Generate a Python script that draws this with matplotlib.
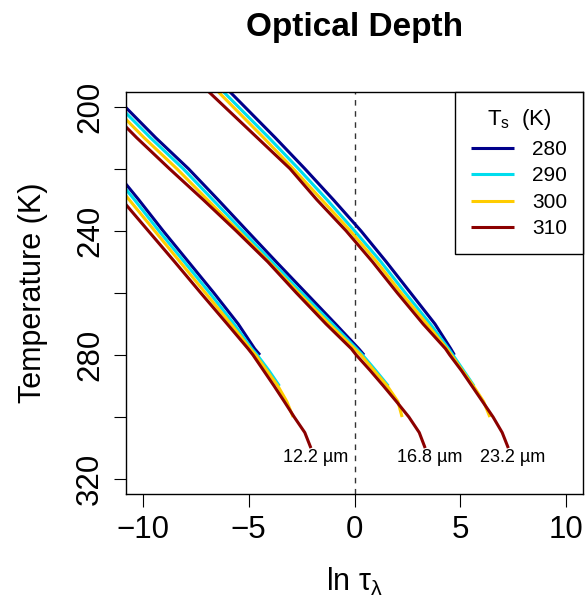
import matplotlib
matplotlib.use("Agg")
import numpy as np
import matplotlib.pyplot as plt

plt.rcParams["font.family"] = ["Liberation Sans", "DejaVu Sans"]
plt.rcParams["mathtext.fontset"] = "custom"
plt.rcParams["mathtext.rm"] = "Liberation Sans"
plt.rcParams["mathtext.it"] = "Liberation Sans"
plt.rcParams["mathtext.default"] = "regular"

# ── data ─────────────────────────────────────────────────────────────────────
# temperature levels (K); each curve runs down to its own surface temperature
T_GRID = [190, 200, 210, 220, 230, 240, 250, 260, 270, 278, 280,
          285, 290, 295, 300, 305, 310]
T_SURF = [280, 290, 300, 310]
COLORS = ["#00008B", "#00DDEE", "#FFCC00", "#8B0000"]
WAVELENGTHS = ["12.2", "16.8", "23.2"]

# ln(tau) at T_GRID, one list per surface temperature (280, 290, 300, 310)
ln_tau_12 = [
    [-15.0, -13.8, -12.6, -11.4, -10.2, -9.05, -7.85, -6.65, -5.5, -4.72, -4.47],
    [-15.2, -14.0, -12.8, -11.6, -10.4, -9.25, -8.05, -6.85, -5.7, -4.85, -4.6,
     -4.05, -3.55],
    [-15.45, -14.25, -13.05, -11.85, -10.65, -9.45, -8.25, -7.05, -5.85, -4.93,
     -4.68, -4.15, -3.62, -3.2, -2.9],
    [-15.9, -14.7, -13.45, -12.2, -11.0, -9.75, -8.5, -7.27, -6.02, -5.03, -4.8,
     -4.3, -3.8, -3.32, -2.85, -2.35, -2.06],
]
ln_tau_17 = [
    [-12.3, -10.85, -9.4, -7.85, -6.45, -5.08, -3.7, -2.3, -0.9, 0.2, 0.45],
    [-12.55, -11.1, -9.65, -8.1, -6.7, -5.3, -3.9, -2.5, -1.05, 0.1, 0.38,
     1.0, 1.6],
    [-12.8, -11.4, -9.95, -8.4, -6.95, -5.5, -4.05, -2.65, -1.2, 0.0, 0.3,
     0.92, 1.55, 2.05, 2.25],
    [-13.1, -11.75, -10.3, -8.75, -7.15, -5.6, -4.1, -2.75, -1.35, -0.15, 0.08,
     0.74, 1.37, 1.98, 2.57, 3.06, 3.34],
]
ln_tau_23 = [
    [-6.65, -5.2, -3.75, -2.35, -1.0, 0.3, 1.5, 2.65, 3.8, 4.55, 4.72],
    [-6.95, -5.5, -4.05, -2.65, -1.3, 0.0, 1.25, 2.4, 3.58, 4.45, 4.65,
     5.15, 5.65],
    [-7.2, -5.75, -4.3, -2.9, -1.55, -0.2, 1.05, 2.2, 3.42, 4.37, 4.58,
     5.1, 5.62, 6.1, 6.4],
    [-7.7, -6.15, -4.6, -3.05, -1.78, -0.4, 0.85, 2.02, 3.24, 4.3, 4.5,
     5.05, 5.55, 6.05, 6.55, 6.98, 7.27],
]
GROUPS = [ln_tau_12, ln_tau_17, ln_tau_23]

# ── figure ───────────────────────────────────────────────────────────────────
fig = plt.figure(figsize=(5.87, 6.01), dpi=100)
ax = fig.add_axes([0.2147, 0.178, 0.7785, 0.6694])

ax.axvline(0, color="#333333", lw=1.0, ls=(0, (4, 4)), zorder=1)

handles = []
for g, curves in enumerate(GROUPS):
    for ts, col, lt in zip(T_SURF, COLORS, curves):
        T = T_GRID[:len(lt)]
        ln, = ax.plot(lt, T, color=col, lw=2.2, solid_capstyle="butt",
                      solid_joinstyle="round", zorder=2)
        if g == 0:
            ln.set_label(str(ts))
            handles.append(ln)
    # wavelength label under the end of the warmest curve
    last = curves[-1]
    ax.annotate(WAVELENGTHS[g] + " µm", xy=(last[-1], T_GRID[len(last) - 1]),
                xytext=(3.3, -1), textcoords="offset points",
                ha="center", va="top", fontsize=13, annotation_clip=False)

ax.set_xlim(-10.8, 10.8)
ax.set_ylim(324.8, 195.2)
ax.set_xticks([-10, -5, 0, 5, 10])
ax.set_xticklabels(["\u221210", "\u22125", "0", "5", "10"])
ax.set_yticks([200, 220, 240, 260, 280, 300, 320])
ax.set_yticklabels(["200", "", "240", "", "280", "", "320"],
                   rotation=90, va="center")
ax.tick_params(direction="out", length=9, width=0.8, labelsize=22.5, pad=6)
for s in ax.spines.values():
    s.set_linewidth(1.0)

ax.set_xlabel("ln $\\tau_{\\lambda}$", fontsize=22, labelpad=15)
ax.set_ylabel("Temperature (K)", fontsize=22, labelpad=19.5)
fig.suptitle("Optical Depth", fontsize=24, fontweight="bold", x=0.604, y=0.98)

leg = ax.legend(handles=handles, title="T$_{s}$  (K)", loc="upper right",
                fontsize=15, title_fontsize=16, borderaxespad=0,
                fancybox=False, edgecolor="black", framealpha=1,
                handlelength=2.05, handletextpad=0.9, labelspacing=0.36,
                borderpad=0.75)
leg.get_frame().set_linewidth(1.0)

fig.savefig("out.png", dpi=100)
